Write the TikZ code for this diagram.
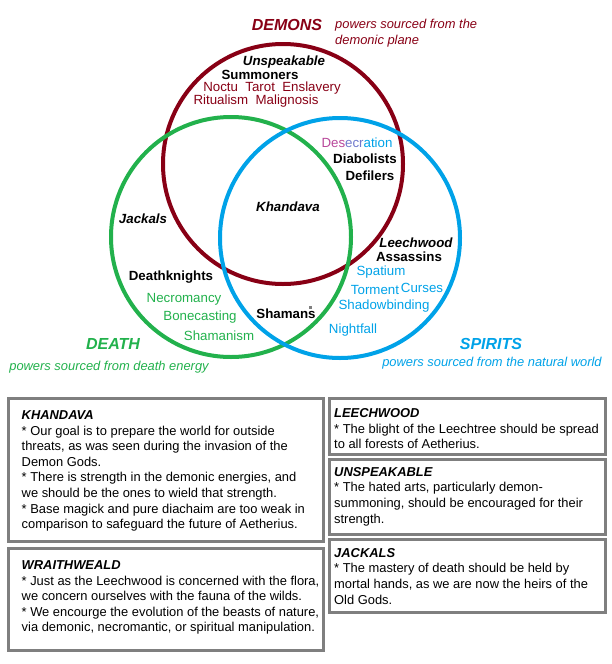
\documentclass[tikz,border=0pt]{standalone}
\usepackage{fontspec}
\setmainfont{Liberation Sans}
\usetikzlibrary{positioning}

\definecolor{demred}{HTML}{880015}
\definecolor{deathgreen}{HTML}{22B14C}
\definecolor{spiritblue}{HTML}{00A2E8}
\definecolor{boxgray}{HTML}{7F7F7F}
\definecolor{desecA}{HTML}{B8479A}
\definecolor{desecB}{HTML}{6F78CC}

\begin{document}
\begin{tikzpicture}[
  x=1pt, y=-1pt,
  every node/.style={inner sep=0pt, font=\fontsize{13.3}{16.3}\selectfont},
  ring/.style={circle, draw=#1, line width=4pt, minimum size=240pt},
  realm/.style={font=\fontsize{16}{19}\selectfont\bfseries\itshape, text=#1},
  realmnote/.style={font=\fontsize{12.9}{16}\selectfont\itshape, text=#1, align=left},
  order/.style={font=\fontsize{13.3}{16.3}\selectfont\bfseries},
  iorder/.style={font=\fontsize{13.3}{16.3}\selectfont\bfseries\itshape},
  art/.style={text=#1},
  panel/.style={draw=boxgray, line width=3pt},
  paneltext/.style={anchor=north west, align=left, font=\fontsize{12.9}{15.6}\selectfont}
]
\useasboundingbox (0,0) rectangle (611,664);

% The three realms, all of the same size.
\node[ring=demred]     (demcirc)   at (283,164) {};
\node[ring=deathgreen] (deathcirc) at (231,237) {};
\node[ring=spiritblue] (spircirc)  at (340,238) {};

% Realm titles and what they draw on.
\node[realm=demred] (demons) at (287,25) {DEMONS};
\node[realmnote=demred, anchor=west] (demnote) at (335,33) {powers sourced from the\\demonic plane};
\node[realm=deathgreen] (death) at (113,344) {DEATH};
\node[realmnote=deathgreen] (deathnote) at (109,367) {powers sourced from death energy};
\node[realm=spiritblue] (spirits) at (491,344) {SPIRITS};
\node[realmnote=spiritblue] (spirnote) at (492,363) {powers sourced from the natural world};

% Orders, sitting in the overlap they belong to.
\node[iorder] (unspeak)  at (284,62)  {Unspeakable};
\node[order]  (summon)   at (260,75)  {Summoners};
\node[order]  (diabol)   at (365,159) {Diabolists};
\node[order]  (defil)    at (370,176) {Defilers};
\node[iorder] (khandava) at (288,207) {Khandava};
\node[iorder] (jackals)  at (143,219) {Jackals};
\node[iorder] (leech)    at (416,243) {Leechwood};
\node[order]  (assass)   at (409,257) {Assassins};
\node[order]  (dknights) at (171,277) {Deathknights};
\node[order]  (shamans)  at (286,314) {Shamans};
\fill[boxgray] (309,306) rectangle (312,309);

% The arts of each realm.
\node[art=demred] (noctu)   at (272,88)  {Noctu\ \ Tarot\ \ Enslavery};
\node[art=demred] (ritual)  at (256,101) {Ritualism\ \ Malignosis};
\node (desec) at (357,143) {\textcolor{desecA}{Des}\textcolor{desecB}{ecr}\textcolor{spiritblue}{ation}};
\foreach \nm/\px/\py/\txt in {necro/184/299/Necromancy, bone/200/317/Bonecasting, shamanism/219/336/Shamanism}
  \node[art=deathgreen] (\nm) at (\px,\py) {\txt};
\foreach \nm/\px/\py/\txt in {spatium/381/272/Spatium, torment/375/290/Torment, curses/422/288/Curses,
                             shadow/384/306/Shadowbinding, nightfall/353/330/Nightfall}
  \node[art=spiritblue] (\nm) at (\px,\py) {\txt};

% Creeds of the orders, in framed panels below.
\draw[panel] (8.5,398.5) rectangle (323.5,541.5);
\draw[panel] (8.5,548.5) rectangle (323.5,650);
\draw[panel] (329.5,398.5) rectangle (605.5,454.5);
\draw[panel] (329.5,459.5) rectangle (605.5,534);
\draw[panel] (329.5,539) rectangle (605.5,612.5);

\node[paneltext] (khandavatxt) at (21.5,410.4) {\textbf{\textit{KHANDAVA}}\\
  * Our goal is to prepare the world for outside\\
  threats, as was seen during the invasion of the\\
  Demon Gods.\\
  * There is strength in the demonic energies, and\\
  we should be the ones to wield that strength.\\
  * Base magick and pure diachaim are too weak in\\
  comparison to safeguard the future of Aetherius.};
\node[paneltext] (wraithtxt) at (21.5,560.4) {\textbf{\textit{WRAITHWEALD}}\\
  * Just as the Leechwood is concerned with the flora,\\
  we concern ourselves with the fauna of the wilds.\\
  * We encourge the evolution of the beasts of nature,\\
  via demonic, necromantic, or spiritual manipulation.};
\node[paneltext] (leechtxt) at (334,408.4) {\textbf{\textit{LEECHWOOD}}\\
  * The blight of the Leechtree should be spread\\
  to all forests of Aetherius.};
\node[paneltext] (unspeaktxt) at (334,467.1) {\textbf{\textit{UNSPEAKABLE}}\\
  * The hated arts, particularly demon-\\
  summoning, should be encouraged for their\\
  strength.};
\node[paneltext] (jackalstxt) at (334,548) {\textbf{\textit{JACKALS}}\\
  * The mastery of death should be held by\\
  mortal hands, as we are now the heirs of the\\
  Old Gods.};

\end{tikzpicture}
\end{document}
